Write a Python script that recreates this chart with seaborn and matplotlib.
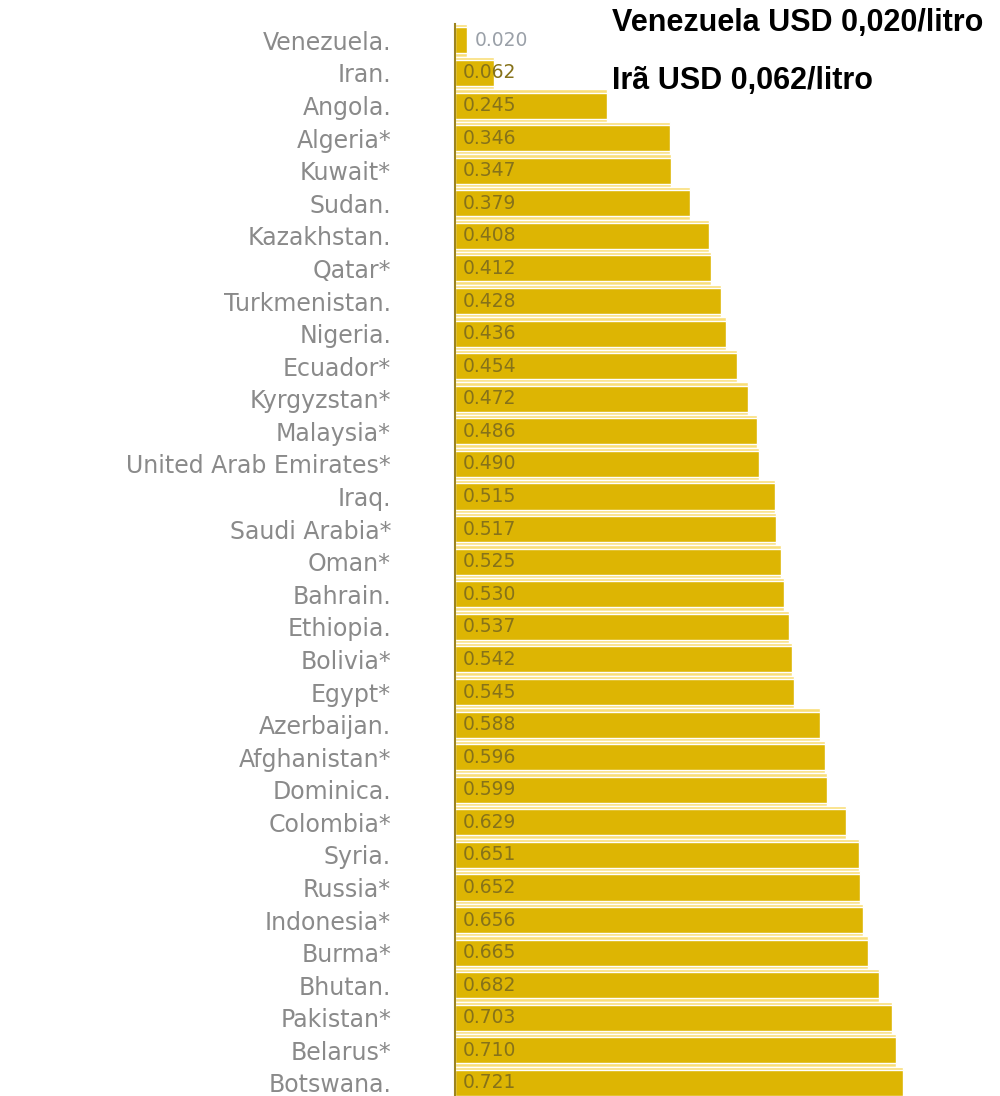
import seaborn as sns
import matplotlib.pyplot as plt
import pandas as pd

# dados: preço da gasolina (USD/litro)
countries = ["Venezuela.", "Iran.", "Angola.", "Algeria*", "Kuwait*", "Sudan.",
             "Kazakhstan.", "Qatar*", "Turkmenistan.", "Nigeria.", "Ecuador*",
             "Kyrgyzstan*", "Malaysia*", "United Arab Emirates*", "Iraq.",
             "Saudi Arabia*", "Oman*", "Bahrain.", "Ethiopia.", "Bolivia*",
             "Egypt*", "Azerbaijan.", "Afghanistan*", "Dominica.", "Colombia*",
             "Syria.", "Russia*", "Indonesia*", "Burma*", "Bhutan.",
             "Pakistan*", "Belarus*", "Botswana."]
prices = [0.020, 0.062, 0.245, 0.346, 0.347, 0.379, 0.408, 0.412, 0.428,
          0.436, 0.454, 0.472, 0.486, 0.490, 0.515, 0.517, 0.525, 0.530,
          0.537, 0.542, 0.545, 0.588, 0.596, 0.599, 0.629, 0.651, 0.652,
          0.656, 0.665, 0.682, 0.703, 0.710, 0.721]
notes = ["Venezuela USD 0,020/litro", "Irã USD 0,062/litro"]

df = pd.DataFrame({"country": countries, "price": prices})

sns.set_style("white")
plt.rcParams['font.family'] = ['DejaVu Sans']

fig = plt.figure(figsize=(10, 10.96), dpi=100)
ax = fig.add_axes([0.455, 0.0, 0.466, 0.978])

# faixa clara entre as barras + barra dourada
sns.barplot(data=df, x="price", y="country", orient="h", color="#F9DE78",
            width=1.0, saturation=1, ax=ax)
sns.barplot(data=df, x="price", y="country", orient="h", color="#DDB503",
            width=0.8, saturation=1, ax=ax)

for i, v in enumerate(prices):
    x = v + 0.012 if v < 0.05 else 0.012
    col = "#9aa0a8" if v < 0.05 else "#86721a"
    ax.text(x, i, f"{v:.3f}", va="center", ha="left", fontsize=13.5,
            color=col)

ax.set_xlim(0, 0.75)
ax.set_ylim(32.4, -0.5)
ax.set_xlabel("")
ax.set_ylabel("")
ax.set_xticks([])
ax.tick_params(axis="y", length=0, pad=46, labelsize=17, labelcolor="#8a8a8a")
for s in ["top", "right", "bottom"]:
    ax.spines[s].set_visible(False)
ax.spines["left"].set_color("#9c8420")
ax.spines["left"].set_linewidth(1.5)

for y, note in zip([0.979, 0.926], notes):
    fig.text(0.612, y, note, fontsize=22, fontweight="bold",
             color="black", family=["Liberation Sans", "DejaVu Sans"],
             va="center", ha="left")

fig.savefig("out.png", dpi=100, facecolor="white")
